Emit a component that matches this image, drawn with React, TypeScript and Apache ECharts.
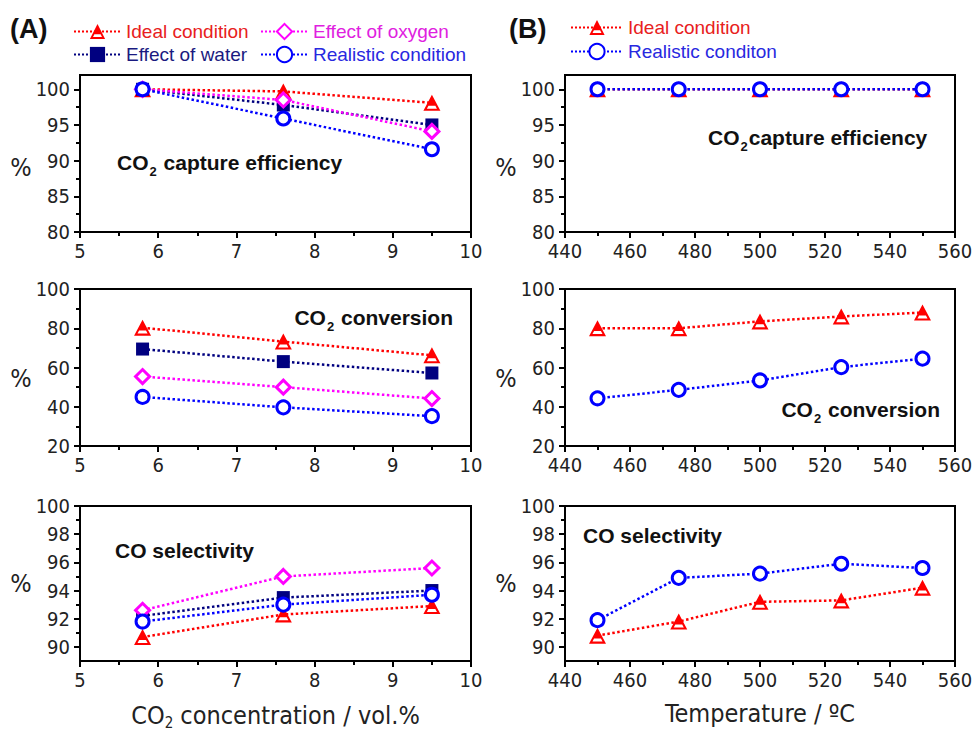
import React, { useEffect, useRef } from 'react';
import * as echarts from 'echarts';

// ---------- data ----------
const concentration = [5.8, 7.6, 9.5];
const temperature = [450, 475, 500, 525, 550];

const captureA_ideal = [100, 99.7, 98.1];
const captureA_water = [100, 97.8, 95.0];
const captureA_oxygen = [100, 98.5, 94.1];
const captureA_realistic = [100, 95.9, 91.6];

const conversionA_ideal = [80.3, 73.2, 66.2];
const conversionA_water = [69.4, 63.0, 57.2];
const conversionA_oxygen = [55.4, 50.0, 44.2];
const conversionA_realistic = [45.0, 39.7, 35.2];

const selectivityA_ideal = [90.7, 92.3, 92.9];
const selectivityA_water = [92.2, 93.5, 94.0];
const selectivityA_oxygen = [92.6, 95.0, 95.6];
const selectivityA_realistic = [91.8, 93.0, 93.7];

const captureB_ideal = [100, 100, 100, 100, 100];
const captureB_realistic = [100, 100, 100, 100, 100];
const conversionB_ideal = [80.0, 80.0, 83.5, 86.0, 88.0];
const conversionB_realistic = [44.3, 48.6, 53.4, 60.2, 64.5];
const selectivityB_ideal = [90.8, 91.8, 93.2, 93.3, 94.2];
const selectivityB_realistic = [91.9, 94.9, 95.2, 95.9, 95.6];

// ---------- ticks ----------
const concTicks = [5, 6, 7, 8, 9, 10];
const concMinorTicks = [5.5, 6.5, 7.5, 8.5, 9.5];
const tempTicks = [440, 460, 480, 500, 520, 540, 560];
const tempMinorTicks = [450, 470, 490, 510, 530, 550];
const captureTicks = [80, 85, 90, 95, 100];
const captureMinorTicks = [82.5, 87.5, 92.5, 97.5];
const conversionTicks = [20, 40, 60, 80, 100];
const conversionMinorTicks = [30, 50, 70, 90];
const selectivityTicks = [90, 92, 94, 96, 98, 100];
const selectivityMinorTicks = [91, 93, 95, 97, 99];

const captureRange = [80, 102];
const conversionRange = [20, 100];
const selectivityRange = [89, 100];
const concRange = [5, 10];
const tempRange = [440, 560];

// ---------- styles ----------
const NARROW = "'Liberation Sans Narrow', 'Arial Narrow', 'DejaVu Sans Condensed', sans-serif";
const SANS = "'Liberation Sans', Arial, sans-serif";

const RED = '#ff0000';
const NAVY = '#000080';
const MAGENTA = '#ff00ff';
const BLUE = '#0000ff';

const TRIANGLE =
  'path://M50 0 L100 90 L0 90 Z M50 24.7 L20.4 78 L79.6 78 Z M50 22 L71 61 L29 61 Z';

const styles: Record<string, any> = {
  ideal: {
    name: 'Ideal condition',
    symbol: TRIANGLE,
    symbolSize: [17, 16],
    itemStyle: { color: RED, borderWidth: 0 },
    lineStyle: { color: RED, width: 2.5, type: 'dotted' },
  },
  water: {
    name: 'Effect of water',
    symbol: 'rect',
    symbolSize: 13,
    itemStyle: { color: NAVY, borderWidth: 0 },
    lineStyle: { color: NAVY, width: 2.5, type: 'dotted' },
  },
  oxygen: {
    name: 'Effect of oxygen',
    symbol: 'diamond',
    symbolSize: 14,
    itemStyle: { color: '#fff', borderColor: MAGENTA, borderWidth: 3 },
    lineStyle: { color: MAGENTA, width: 2.5, type: 'dotted' },
  },
  realistic: {
    name: 'Realistic condition',
    symbol: 'circle',
    symbolSize: 13,
    itemStyle: { color: '#fff', borderColor: BLUE, borderWidth: 3 },
    lineStyle: { color: BLUE, width: 2.5, type: 'dotted' },
  },
  realisticB: {
    name: 'Realistic conditon',
    symbol: 'circle',
    symbolSize: 13,
    itemStyle: { color: '#fff', borderColor: BLUE, borderWidth: 3 },
    lineStyle: { color: BLUE, width: 2.5, type: 'dotted' },
  },
};

const grids = [
  { left: 80, top: 75, width: 391, height: 157 },
  { left: 80, top: 289, width: 391, height: 157 },
  { left: 80, top: 506, width: 391, height: 155 },
  { left: 565, top: 75, width: 390, height: 157 },
  { left: 565, top: 289, width: 390, height: 157 },
  { left: 565, top: 506, width: 390, height: 155 },
];

const panels = [
  { x: concentration, xr: concRange, xt: concTicks, xm: concMinorTicks, yr: captureRange, yt: captureTicks, ym: captureMinorTicks,
    s: [['ideal', captureA_ideal], ['water', captureA_water], ['oxygen', captureA_oxygen], ['realistic', captureA_realistic]] },
  { x: concentration, xr: concRange, xt: concTicks, xm: concMinorTicks, yr: conversionRange, yt: conversionTicks, ym: conversionMinorTicks,
    s: [['ideal', conversionA_ideal], ['water', conversionA_water], ['oxygen', conversionA_oxygen], ['realistic', conversionA_realistic]] },
  { x: concentration, xr: concRange, xt: concTicks, xm: concMinorTicks, yr: selectivityRange, yt: selectivityTicks, ym: selectivityMinorTicks,
    s: [['ideal', selectivityA_ideal], ['water', selectivityA_water], ['oxygen', selectivityA_oxygen], ['realistic', selectivityA_realistic]],
    xname: 'CO{s|2} concentration / vol.%' },
  { x: temperature, xr: tempRange, xt: tempTicks, xm: tempMinorTicks, yr: captureRange, yt: captureTicks, ym: captureMinorTicks,
    s: [['ideal', captureB_ideal], ['realisticB', captureB_realistic]] },
  { x: temperature, xr: tempRange, xt: tempTicks, xm: tempMinorTicks, yr: conversionRange, yt: conversionTicks, ym: conversionMinorTicks,
    s: [['ideal', conversionB_ideal], ['realisticB', conversionB_realistic]] },
  { x: temperature, xr: tempRange, xt: tempTicks, xm: tempMinorTicks, yr: selectivityRange, yt: selectivityTicks, ym: selectivityMinorTicks,
    s: [['ideal', selectivityB_ideal], ['realisticB', selectivityB_realistic]],
    xname: 'Temperature / ºC' },
];

const tickLine = { color: '#000', width: 2 };
const labelStyle = { fontSize: 20, fontFamily: NARROW, color: '#222' };

function buildOption() {
  const xAxis: any[] = [];
  const yAxis: any[] = [];
  const series: any[] = [];
  panels.forEach((p, i) => {
    xAxis.push({
      type: 'value', gridIndex: i, min: p.xr[0], max: p.xr[1], position: 'bottom',
      axisLine: { show: true, onZero: false, lineStyle: tickLine },
      axisTick: { show: true, customValues: p.xt, length: 6, lineStyle: tickLine },
      axisLabel: { show: true, customValues: p.xt, margin: 9, ...labelStyle },
      splitLine: { show: false },
      name: p.xname || '',
      nameLocation: 'middle',
      nameGap: 40,
      nameTextStyle: {
        fontSize: 25, fontFamily: NARROW, color: '#222',
        rich: { s: { fontSize: 15, fontFamily: NARROW, color: '#222', padding: [14, 0, 0, 0] } },
      },
    });
    xAxis.push({
      type: 'value', gridIndex: i, min: p.xr[0], max: p.xr[1], position: 'bottom',
      axisLine: { show: false, onZero: false },
      axisTick: { show: true, customValues: p.xm, length: 4, lineStyle: tickLine },
      axisLabel: { show: false },
      splitLine: { show: false },
    });
    yAxis.push({
      type: 'value', gridIndex: i, min: p.yr[0], max: p.yr[1], position: 'left',
      axisLine: { show: true, onZero: false, lineStyle: tickLine },
      axisTick: { show: true, customValues: p.yt, length: 6, lineStyle: tickLine },
      axisLabel: { show: true, customValues: p.yt, margin: 10, ...labelStyle },
      splitLine: { show: false },
    });
    yAxis.push({
      type: 'value', gridIndex: i, min: p.yr[0], max: p.yr[1], position: 'left',
      axisLine: { show: false, onZero: false },
      axisTick: { show: true, customValues: p.ym, length: 4, lineStyle: tickLine },
      axisLabel: { show: false },
      splitLine: { show: false },
    });
    p.s.forEach(([kind, vals]: any) => {
      const st = styles[kind];
      series.push({
        type: 'line',
        name: st.name,
        xAxisIndex: 2 * i,
        yAxisIndex: 2 * i,
        data: p.x.map((xv: number, k: number) => [xv, vals[k]]),
        symbol: st.symbol,
        symbolSize: st.symbolSize,
        itemStyle: st.itemStyle,
        lineStyle: st.lineStyle,
        showSymbol: true,
        clip: false,
      });
    });
  });

  const legendBase = (name: string, left: number, top: number, color: string, iw = 47) => ({
    data: [name],
    left, top,
    orient: 'horizontal',
    padding: 0,
    itemWidth: iw,
    itemHeight: 19,
    itemGap: 0,
    selectedMode: false,
    textStyle: { fontSize: 19, fontFamily: SANS, color },
  });

  const legend = [
    legendBase('Ideal condition', 73, 22, '#e82020'),
    legendBase('Effect of oxygen', 260, 22, '#e020e0'),
    legendBase('Effect of water', 73, 45, '#1a1a80'),
    legendBase('Realistic condition', 260, 45, '#2828e0'),
    legendBase('Ideal condition', 570, 18, '#e82020', 52),
    legendBase('Realistic conditon', 570, 42, '#2828e0', 52),
  ];

  const annoRich = {
    a: { fontSize: 21, fontWeight: 'bold', fontFamily: SANS, fill: '#111' },
    s: { fontSize: 13, fontWeight: 'bold', fontFamily: SANS, fill: '#111', padding: [19, 1, 0, 1] },
  };
  const anno = (text: string, x: number, y: number, align: string) => ({
    type: 'text', x, y, z: 10,
    style: { text, rich: annoRich, align, verticalAlign: 'middle', fontSize: 21, fontWeight: 'bold', fontFamily: SANS, fill: '#111' },
  });
  const pct = (x: number, y: number) => ({
    type: 'text', x, y,
    style: { text: '%', align: 'center', verticalAlign: 'middle', fontSize: 25, fontFamily: NARROW, fill: '#222' },
  });
  const graphic = [
    { type: 'text', x: 10, y: 29, style: { text: '(A)', align: 'left', verticalAlign: 'middle', fontSize: 27, fontWeight: 'bold', fontFamily: SANS, fill: '#111' } },
    { type: 'text', x: 509, y: 29, style: { text: '(B)', align: 'left', verticalAlign: 'middle', fontSize: 27, fontWeight: 'bold', fontFamily: SANS, fill: '#111' } },
    anno('{a|CO}{s|2}{a| capture efficiency}', 117, 162, 'left'),
    anno('{a|CO}{s|2}{a| conversion}', 453, 317, 'right'),
    anno('{a|CO selectivity}', 115, 550, 'left'),
    anno('{a|CO}{s|2}{a|capture efficiency}', 708, 137, 'left'),
    anno('{a|CO}{s|2}{a| conversion}', 940, 409, 'right'),
    anno('{a|CO selectivity}', 583, 535, 'left'),
    pct(21, 167), pct(21, 378), pct(21, 583),
    pct(506, 167), pct(506, 378), pct(506, 583),
  ];

  return {
    animation: false,
    backgroundColor: '#fff',
    grid: grids.map((g) => ({ ...g, show: true, borderColor: '#000', borderWidth: 2, backgroundColor: 'transparent', containLabel: false })),
    xAxis,
    yAxis,
    legend,
    series,
    graphic,
  };
}

export default function App() {
  const ref = useRef<HTMLDivElement>(null);
  useEffect(() => {
    if (!ref.current) return;
    const chart = echarts.init(ref.current, null, { renderer: 'svg' });
    chart.setOption(buildOption() as any);
    return () => chart.dispose();
  }, []);
  return <div ref={ref} style={{ position: 'absolute', left: 0, top: 0, width: 979, height: 733 }} />;
}
